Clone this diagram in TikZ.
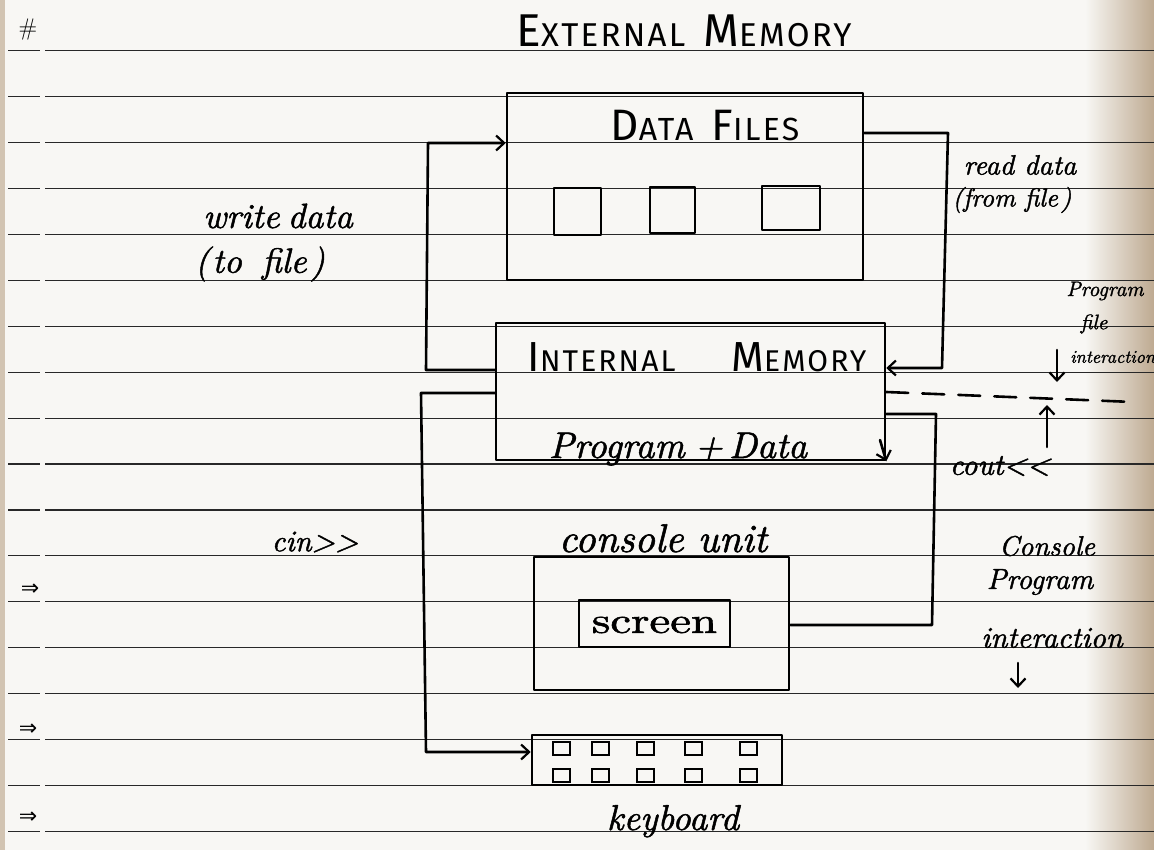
\documentclass[tikz,border=0pt]{standalone}
\usepackage{fontspec}
\usepackage{graphicx}
\newfontfamily\capsfont[LetterSpace=7]{Fira Sans}
\newfontfamily\symfont{DejaVu Sans}
\newfontfamily\handfont{lmroman10-italic.otf}[FakeBold=1.4]
\newfontfamily\handup{lmroman10-regular.otf}[FakeBold=1.4]
\usetikzlibrary{arrows.meta}
\definecolor{paper}{RGB}{248,247,244}
\definecolor{edgeshade}{RGB}{190,170,145}
\definecolor{rulecol}{RGB}{40,40,40}
\newcommand\bigsmall[4]{{\fontsize{#1}{#1}\selectfont #3}{\fontsize{#2}{#2}\selectfont #4}}
\newcommand\hsz[1]{\handfont\fontsize{#1}{#1}\selectfont}
\tikzset{
  pen/.style={line width=2.6pt, black, line join=round, line cap=round},
  box/.style={draw, pen, inner sep=0pt, fill=none},
  keybox/.style={draw, line width=2pt, inner sep=0pt, minimum width=17pt, minimum height=13pt},
  arr/.style={pen, -{Straight Barb[length=8pt,width=15pt,line width=2.2pt]}},
  ruled/.style={line width=1.2pt, rulecol},
  hand/.style={inner sep=0pt},
  capstext/.style={font=\capsfont, inner sep=0pt},
  marks/.style={font=\symfont\fontsize{22}{22}\selectfont, inner sep=0pt},
}
\begin{document}
\begin{tikzpicture}[x=1pt,y=-1pt]
\useasboundingbox (0,0) rectangle (1154,850);
% paper
\fill[paper] (0,0) rectangle (1154,850);
\shade[left color=paper, right color=edgeshade] (1085,0) rectangle (1154,850);
\fill[edgeshade!70] (0,0) rectangle (5,850);
% ruled lines
\foreach \k in {1,...,18} {
  \pgfmathsetmacro{\yy}{5+45.9*\k}
  \draw[ruled] (45,\yy) -- (1154,\yy);
  \draw[ruled] (8,\yy) -- (40,\yy);
}
% margin marks
\node[font=\fontsize{24}{24}\selectfont, inner sep=0pt] (hash) at (28,30) {\#};
\node[marks] (m1) at (30,590) {⇒};
\node[marks] (m2) at (28,730) {⇒};
\node[marks] (m3) at (28,818) {⇒};

% title
\node[capstext, anchor=base] (title) at (684,47) {\bigsmall{46}{33}{E}{XTERNAL}\hspace{18pt}\bigsmall{46}{33}{M}{EMORY}};

% data files
\node[box, minimum width=356pt, minimum height=187pt] (df) at (685,186.5) {};
\node[capstext, anchor=base] (dft) at (705,141) {\bigsmall{44}{32}{D}{ATA}\hspace{18pt}\bigsmall{44}{32}{F}{ILES}};
\node[box, minimum width=47pt, minimum height=47pt] (f1) at (577.5,211.5) {};
\node[box, minimum width=45pt, minimum height=46pt] (f2) at (672.5,210) {};
\node[box, minimum width=58pt, minimum height=44pt] (f3) at (791,208) {};

% internal memory
\node[box, minimum width=389pt, minimum height=137pt] (im) at (690.5,391.5) {};
\node[capstext, anchor=base] (imt) at (697,371) {\bigsmall{42}{30}{I}{NTERNAL}\hspace{56pt}\bigsmall{42}{30}{M}{EMORY}};
\node[hand, font=\hsz{37}, anchor=base] (pd) at (678,458) {Program\hspace{10pt}+\hspace{6pt}Data};

% console unit
\node[hand, font=\hsz{40}, anchor=base] (cut) at (663,552) {console\hspace{14pt}unit};
\node[box, minimum width=255pt, minimum height=133pt] (con) at (661.5,623.5) {};
\node[box, minimum width=151pt, minimum height=47pt] (scr) at (654.5,623.5) {};
\node[font=\handup\fontsize{36}{36}\selectfont, inner sep=0pt] (scrt) at (654.5,625) {\scalebox{1.3}[1]{screen}};

% keyboard
\node[box, minimum width=250pt, minimum height=50pt] (kb) at (657,760) {};
\foreach \i/\xx in {1/561,2/600,3/645,4/693,5/748} {
  \node[keybox] (ka\i) at (\xx,748.5) {};
  \node[keybox] (kb\i) at (\xx,775) {};
}
\node[hand, font=\hsz{36}, anchor=base] (kbt) at (673,830) {keyboard};

% write data (to file): internal memory -> data files
\coordinate (w1) at (426,370);
\coordinate (w2) at (428,143);
\draw[arr] (im.west |- w1) -- (w1) -- (w2) -- (df.west |- w2);
\node[hand, font=\hsz{35}] (wd1) at (278,216) {write\hspace{8pt}data};
\node[hand, font=\hsz{35}] (wd2) at (260,264) {(\hspace{3pt}to\hspace{20pt}file\hspace{4pt})};

% read data (from file): data files -> internal memory
\coordinate (r1) at (948,133);
\coordinate (r2) at (942,368);
\draw[arr] (df.east |- r1) -- (r1) -- (r2) -- (im.east |- r2);
\node[hand, font=\hsz{28}] (rd1) at (1020,165) {read data};
\node[hand, font=\hsz{26}] (rd2) at (1012,200) {(from file\hspace{3pt})};

% small down tip at internal memory corner
\coordinate (imtip) at (880,440);
\draw[arr] (imtip) -- (im.south east);

% cin: internal memory -> keyboard
\coordinate (c1) at (421,393);
\coordinate (c2) at (426,752);
\draw[arr] (im.west |- c1) -- (c1) -- (c2) -- (kb.west |- c2);
\node[hand, font=\hsz{30}] (cin) at (315,542) {cin{>}{>}};

% cout: internal memory -> console
\coordinate (o1) at (936,414);
\coordinate (o2) at (932,625);
\draw[pen] (im.east |- o1) -- (o1) -- (o2) -- (con.east |- o2);
\node[hand, font=\hsz{30}] (cout) at (1000,466) {cout{<}{<}};

% program file interaction
\coordinate (d2) at (1133,402);
\draw[pen, dash pattern=on 22pt off 14pt] (im.east |- 0,392) -- (d2);
\coordinate (pa1) at (1057,350);
\coordinate (pa2) at (1057,382);
\draw[arr] (pa1) -- (pa2);
\coordinate (ua1) at (1047,447);
\coordinate (ua2) at (1047,405);
\draw[arr] (ua1) -- (ua2);
\node[hand, font=\hsz{21}] (pf1) at (1105,291) {Program};
\node[hand, font=\hsz{21}] (pf2) at (1094,324) {file};
\node[hand, font=\hsz{18}, anchor=west] (pf3) at (1070,357) {interaction};

% console program interaction
\node[hand, font=\hsz{28}] (cp1) at (1047,546) {Console};
\node[hand, font=\hsz{29}] (cp2) at (1040,582) {Program};
\node[hand, font=\hsz{30}] (cp3) at (1052,638) {interaction};
\coordinate (ca1) at (1018,663);
\coordinate (ca2) at (1018,688);
\draw[arr] (ca1) -- (ca2);
\end{tikzpicture}
\end{document}
